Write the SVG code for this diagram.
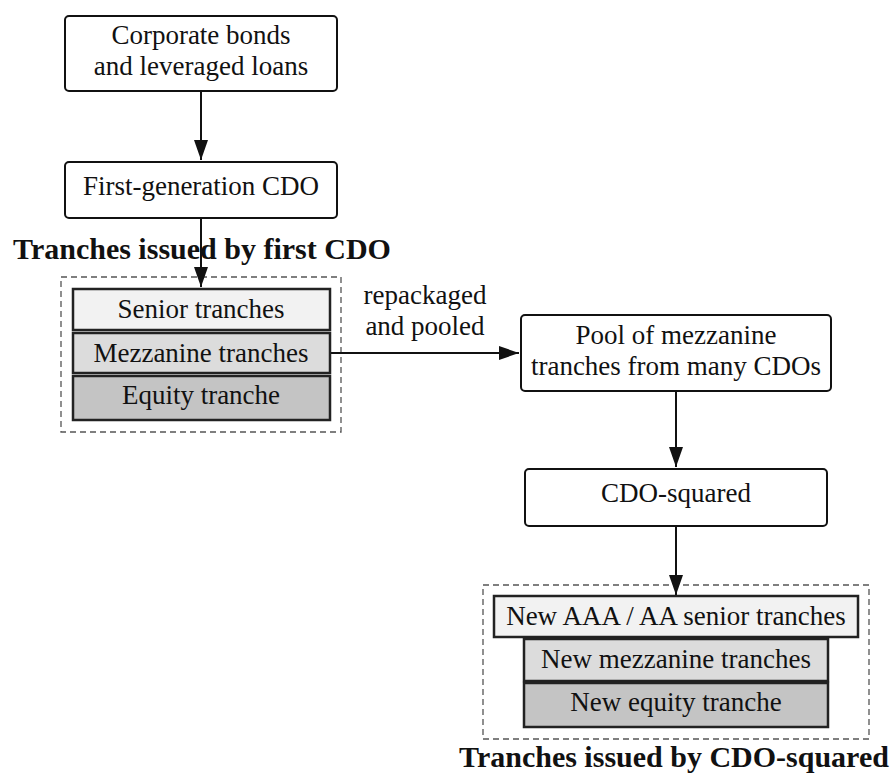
<svg xmlns="http://www.w3.org/2000/svg" width="895" height="774" viewBox="0 0 895 774">
<defs>
<style>
text{font-family:"Liberation Serif","DejaVu Serif",serif;font-size:27px;fill:#111;text-anchor:middle}
.t{font-weight:bold;font-size:30px}
.box{fill:#fff;stroke:#111;stroke-width:2}
.tr{stroke:#222;stroke-width:2.5}
.grp{fill:none;stroke:#555;stroke-width:1.3;stroke-dasharray:6 4}
.edge{stroke:#111;stroke-width:2;fill:none}
</style>
<marker id="ah" viewBox="0 0 20 14" refX="20" refY="7" markerWidth="20" markerHeight="14" markerUnits="userSpaceOnUse" orient="auto">
<path d="M0,0 L20,7 L0,14 z" fill="#111"/>
</marker>
</defs>
<rect width="895" height="774" fill="#fff"/>
<g id="group1">
<rect class="grp" x="61" y="277" width="280" height="155"/>
<text class="t" x="202" y="259">Tranches issued by first CDO</text>
</g>
<g id="group2">
<rect class="grp" x="483" y="585" width="386" height="154"/>
<text class="t" x="674" y="767">Tranches issued by CDO-squared</text>
</g>
<g id="connectors">
<line class="edge" x1="201" y1="92" x2="201" y2="160" marker-end="url(#ah)"/>
<line class="edge" x1="201" y1="218" x2="201" y2="287" marker-end="url(#ah)"/>
<line class="edge" x1="330" y1="353" x2="519" y2="353" marker-end="url(#ah)"/>
<line class="edge" x1="676" y1="391" x2="676" y2="467" marker-end="url(#ah)"/>
<line class="edge" x1="676" y1="526" x2="676" y2="595" marker-end="url(#ah)"/>
<text x="425" y="304">repackaged</text>
<text x="425" y="335">and pooled</text>
</g>
<g id="n-corporate">
<rect class="box" x="65" y="16" width="272" height="75" rx="4"/>
<text x="201" y="44">Corporate bonds</text>
<text x="201" y="75">and leveraged loans</text>
</g>
<g id="n-first-cdo">
<rect class="box" x="65" y="162" width="272" height="56" rx="4"/>
<text x="201" y="195">First-generation CDO</text>
</g>
<g id="n-senior">
<rect class="tr" x="73" y="289" width="257" height="41" fill="#f2f2f2"/>
<text x="201" y="318">Senior tranches</text>
</g>
<g id="n-mezz">
<rect class="tr" x="73" y="333" width="257" height="40" fill="#dcdcdc"/>
<text x="201" y="362">Mezzanine tranches</text>
</g>
<g id="n-equity">
<rect class="tr" x="73" y="376" width="257" height="44" fill="#c4c4c4"/>
<text x="201" y="404">Equity tranche</text>
</g>
<g id="n-pool">
<rect class="box" x="521" y="315" width="310" height="76" rx="4"/>
<text x="676" y="344">Pool of mezzanine</text>
<text x="676" y="375">tranches from many CDOs</text>
</g>
<g id="n-cdo2">
<rect class="box" x="525" y="469" width="302" height="57" rx="4"/>
<text x="676" y="502">CDO-squared</text>
</g>
<g id="n-new-senior">
<rect class="tr" x="494" y="596" width="364" height="41" fill="#f2f2f2"/>
<text x="676" y="625">New AAA / AA senior tranches</text>
</g>
<g id="n-new-mezz">
<rect class="tr" x="524" y="639" width="304" height="42" fill="#dcdcdc"/>
<text x="676" y="668">New mezzanine tranches</text>
</g>
<g id="n-new-equity">
<rect class="tr" x="524" y="683" width="304" height="44" fill="#c4c4c4"/>
<text x="676" y="711">New equity tranche</text>
</g>
</svg>
